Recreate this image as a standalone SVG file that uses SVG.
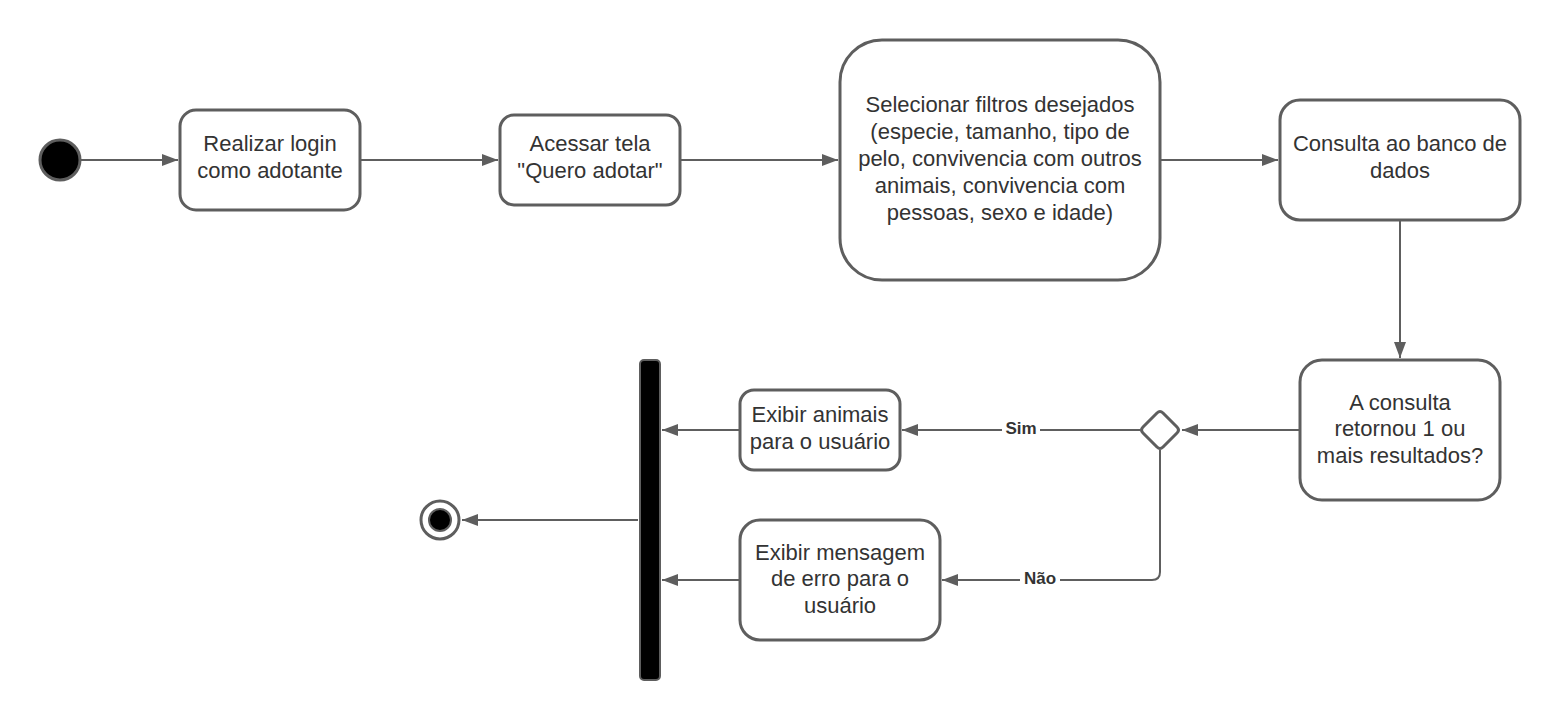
<svg xmlns="http://www.w3.org/2000/svg" width="1560" height="720" viewBox="0 0 1560 720">
<style>
.box{fill:#fff;stroke:#5e5e5e;stroke-width:3}
.t{font-family:"Liberation Sans",Arial,sans-serif;font-size:22px;fill:#333;text-anchor:middle}
.lbl{font-family:"Liberation Sans",Arial,sans-serif;font-size:17px;font-weight:bold;fill:#333;text-anchor:middle}
.c{fill:none;stroke:#5e5e5e;stroke-width:2}
</style>
<defs>
<marker id="ah" markerWidth="16" markerHeight="12" refX="16" refY="6" orient="auto" markerUnits="userSpaceOnUse">
<path d="M0,0 L16,6 L0,12 Z" fill="#5e5e5e"/>
</marker>
</defs>
<rect width="1560" height="720" fill="#fff"/>
<g id="connectors">
<line class="c" x1="80" y1="160" x2="178" y2="160" marker-end="url(#ah)"/>
<line class="c" x1="360" y1="160" x2="498" y2="160" marker-end="url(#ah)"/>
<line class="c" x1="680" y1="160" x2="838" y2="160" marker-end="url(#ah)"/>
<line class="c" x1="1160" y1="160" x2="1278" y2="160" marker-end="url(#ah)"/>
<line class="c" x1="1400" y1="220" x2="1400" y2="358" marker-end="url(#ah)"/>
<line class="c" x1="1300" y1="430" x2="1182" y2="430" marker-end="url(#ah)"/>
<line class="c" x1="1140" y1="430" x2="902" y2="430" marker-end="url(#ah)"/>
<path class="c" d="M1160,450 L1160,572 Q1160,580 1152,580 L942,580" marker-end="url(#ah)"/>
<line class="c" x1="740" y1="430" x2="662" y2="430" marker-end="url(#ah)"/>
<line class="c" x1="740" y1="580" x2="662" y2="580" marker-end="url(#ah)"/>
<line class="c" x1="638" y1="520" x2="462" y2="520" marker-end="url(#ah)"/>
<rect x="1002" y="420" width="38" height="18" fill="#fff"/>
<text class="lbl" x="1021" y="434">Sim</text>
<rect x="1020" y="570" width="40" height="18" fill="#fff"/>
<text class="lbl" x="1040" y="584">Não</text>
</g>
<g id="start"><circle cx="60" cy="160" r="20" fill="#000" stroke="#5e5e5e" stroke-width="3"/></g>
<g id="login">
<rect class="box" x="180" y="110" width="180" height="100" rx="16"/>
<text class="t" x="270" y="151">Realizar login</text>
<text class="t" x="270" y="178">como adotante</text>
</g>
<g id="acessar">
<rect class="box" x="500" y="115" width="180" height="90" rx="14"/>
<text class="t" x="590" y="151">Acessar tela</text>
<text class="t" x="590" y="178">"Quero adotar"</text>
</g>
<g id="filtros">
<rect class="box" x="840" y="40" width="320" height="240" rx="42"/>
<text class="t" x="1000" y="112">Selecionar filtros desejados</text>
<text class="t" x="1000" y="139">(especie, tamanho, tipo de</text>
<text class="t" x="1000" y="166">pelo, convivencia com outros</text>
<text class="t" x="1000" y="193">animais, convivencia com</text>
<text class="t" x="1000" y="220">pessoas, sexo e idade)</text>
</g>
<g id="consulta">
<rect class="box" x="1280" y="100" width="240" height="120" rx="20"/>
<text class="t" x="1400" y="151">Consulta ao banco de</text>
<text class="t" x="1400" y="178">dados</text>
</g>
<g id="pergunta">
<rect class="box" x="1300" y="360" width="200" height="140" rx="22"/>
<text class="t" x="1400" y="410">A consulta</text>
<text class="t" x="1400" y="436">retornou 1 ou</text>
<text class="t" x="1400" y="463">mais resultados?</text>
</g>
<g id="decisao">
<path d="M1157,413 Q1160,410 1163,413 L1177,427 Q1180,430 1177,433 L1163,447 Q1160,450 1157,447 L1143,433 Q1140,430 1143,427 Z" class="box"/>
</g>
<g id="animais">
<rect class="box" x="740" y="390" width="160" height="80" rx="14"/>
<text class="t" x="820" y="422">Exibir animais</text>
<text class="t" x="820" y="449">para o usuário</text>
</g>
<g id="erro">
<rect class="box" x="740" y="520" width="200" height="120" rx="20"/>
<text class="t" x="840" y="560">Exibir mensagem</text>
<text class="t" x="840" y="586">de erro para o</text>
<text class="t" x="840" y="613">usuário</text>
</g>
<g id="barra">
<rect x="640" y="360" width="20" height="320" rx="4" fill="#000" stroke="#5e5e5e" stroke-width="2"/>
</g>
<g id="fim">
<circle cx="440" cy="520" r="19" fill="#fff" stroke="#5e5e5e" stroke-width="3"/>
<circle cx="440" cy="520" r="11" fill="#000" stroke="#5e5e5e" stroke-width="2"/>
</g>
</svg>
